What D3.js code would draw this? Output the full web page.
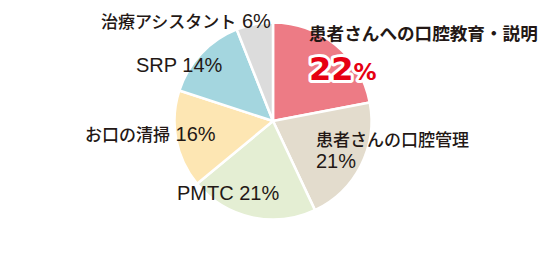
<!DOCTYPE html>
<html>
<head>
<meta charset="utf-8">
<script src="https://cdn.jsdelivr.net/npm/d3@7"></script>
<style>
  body { margin: 0; background: #fff; }
  svg text { fill: #231815; }
  .cjk { font-family: "Noto Sans CJK JP", sans-serif; font-size: 17px; font-weight: 500; }
  .lat { font-family: "Liberation Sans", Arial, sans-serif; font-size: 20px; }
</style>
</head>
<body>
<svg id="chart" width="548" height="256"></svg>
<script>
// chart data
const categories = ["患者さんへの口腔教育・説明", "患者さんの口腔管理", "PMTC", "お口の清掃", "SRP", "治療アシスタント"];
const shares = [22, 21, 21, 16, 14, 6];
const colors = ["#ed7b85", "#e3dccd", "#e4eed3", "#fde6b3", "#a4d6df", "#dcdcdc"];

// label layout (x, baseline y) per slice
const labelLayout = [
    {x: 309, y: 40},
    {x: 316, y: 146},
    {x: 177, y: 200},
    {x: 85, y: 141},
    {x: 136, y: 71.5},
    {x: 101, y: 28}
];

const svg = d3.select("#chart");
const cx = 273, cy = 121, r = 98.5;

const pie = d3.pie().sort(null).value(d => d);
const arc = d3.arc().innerRadius(0).outerRadius(r);

const g = svg.append("g").attr("transform", `translate(${cx},${cy})`);
g.selectAll("path")
    .data(pie(shares))
    .enter()
    .append("path")
    .attr("d", arc)
    .attr("fill", (d, i) => colors[i])
    .attr("stroke", "#fff")
    .attr("stroke-width", 2.5)
    .attr("stroke-linejoin", "round");

// split a label into CJK and latin runs
function addRuns(textSel, str) {
    const runs = str.match(/[\u3000-\u9fff\uff00-\uffef・]+|[^\u3000-\u9fff\uff00-\uffef・]+/g);
    runs.forEach(run => {
        const isCjk = /[\u3000-\u9fff\uff00-\uffef・]/.test(run);
        textSel.append("tspan")
            .attr("class", isCjk ? "cjk" : "lat")
            .text(run);
    });
}

categories.forEach((name, i) => {
    const pos = labelLayout[i];
    if (i === 0) {
        svg.append("text")
            .attr("class", "cjk")
            .attr("x", pos.x).attr("y", pos.y)
            .style("font-size", "17.6px")
            .style("font-weight", "bold")
            .text(name);
        // big red percentage with white outline
        const big = svg.append("text")
            .attr("x", 309).attr("y", 80)
            .style("font-family", "'DejaVu Sans', sans-serif")
            .style("font-weight", "bold")
            .attr("stroke", "#fff")
            .attr("stroke-width", 6)
            .attr("stroke-linejoin", "round")
            .attr("paint-order", "stroke")
            .style("fill", "#e60012");
        big.append("tspan").style("font-size", "32px").text(shares[i]);
        big.append("tspan").style("font-size", "23px").text("%");
    } else if (i === 1) {
        const t1 = svg.append("text").attr("x", pos.x).attr("y", pos.y);
        addRuns(t1, name);
        const t2 = svg.append("text").attr("x", pos.x).attr("y", pos.y + 22);
        addRuns(t2, shares[i] + "%");
    } else {
        const t = svg.append("text").attr("x", pos.x).attr("y", pos.y);
        addRuns(t, name + " " + shares[i] + "%");
    }
});
</script>
</body>
</html>
